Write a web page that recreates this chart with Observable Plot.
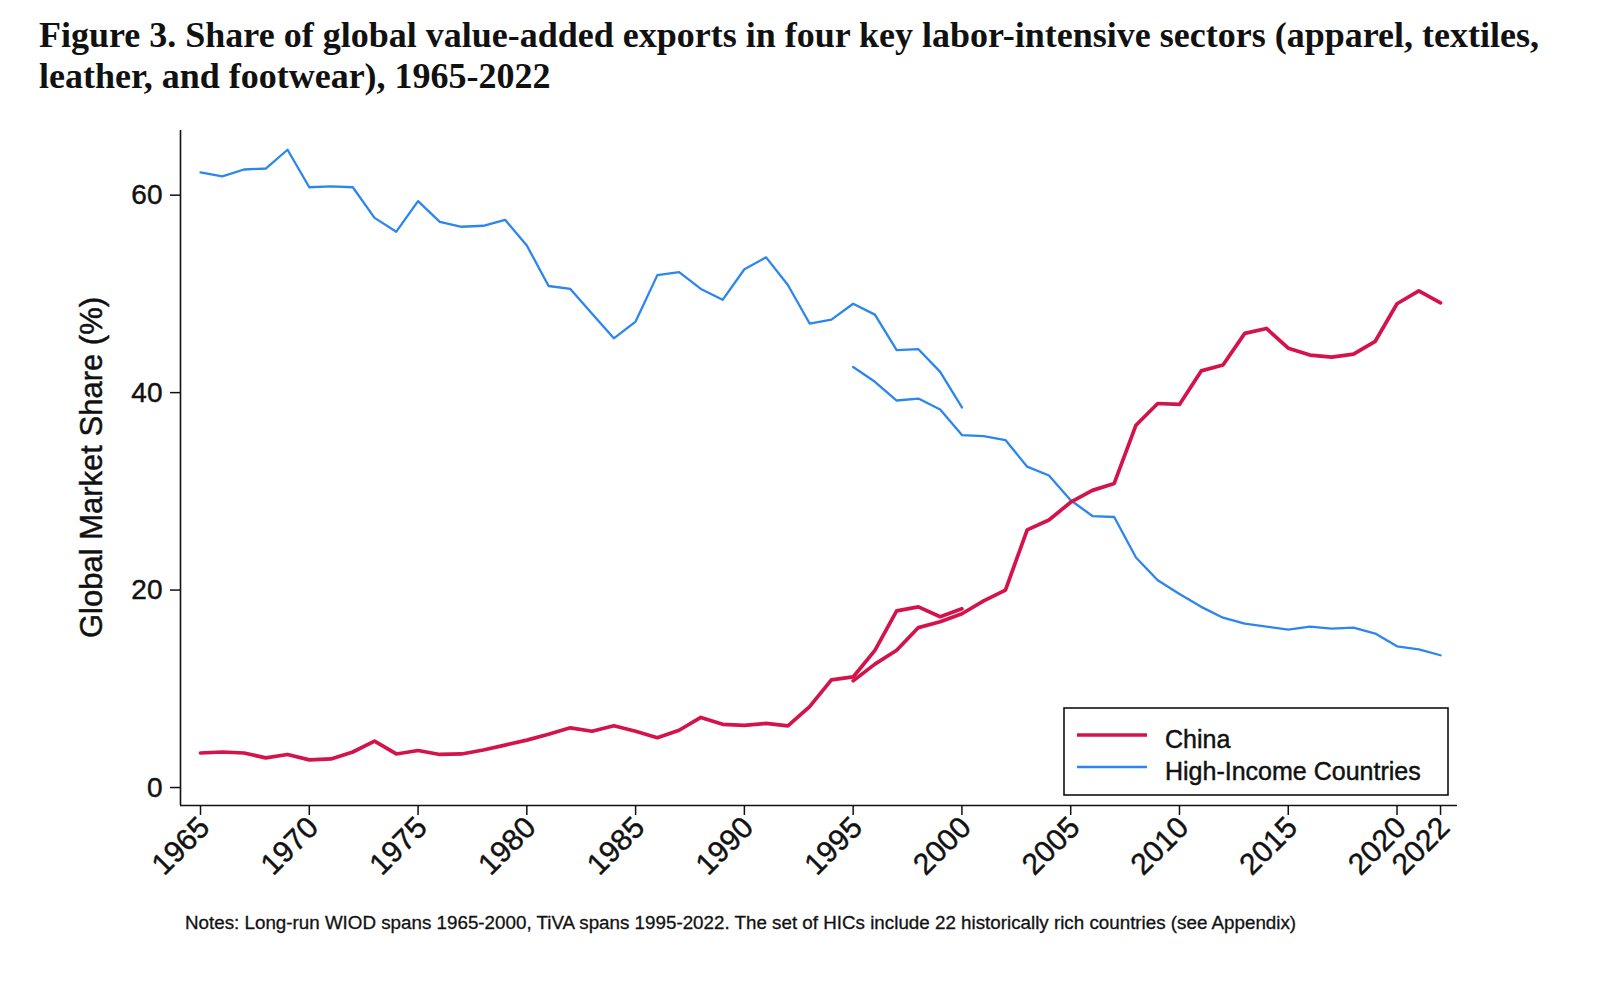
<!DOCTYPE html>
<html>
<head>
<meta charset="utf-8">
<script src="https://cdn.jsdelivr.net/npm/d3@7"></script>
<script src="https://cdn.jsdelivr.net/npm/@observablehq/plot@0.6"></script>
<style>
  html, body { margin: 0; padding: 0; background: #fff; }
  body { width: 1598px; height: 992px; position: relative; overflow: hidden; }
  #title { position: absolute; left: 39px; top: 15px; font-family: "Liberation Serif", "Times New Roman", serif; font-weight: bold; font-size: 36px; line-height: 41px; color: #111; white-space: nowrap; }
  #chart { position: absolute; left: 0; top: 110px; }
  #chart text { stroke: #111; stroke-width: 0.45px; }
  #notes { position: absolute; left: 185px; top: 913px; font-family: "Liberation Sans", Arial, sans-serif; font-size: 18.8px; line-height: 20px; color: #111; white-space: nowrap; -webkit-text-stroke: 0.3px #111; }
</style>
</head>
<body>
<div id="title">Figure 3. Share of global value-added exports in four key labor-intensive sectors (apparel, textiles,<br>leather, and footwear), 1965-2022</div>
<div id="chart"></div>
<div id="notes">Notes: Long-run WIOD spans 1965-2000, TiVA spans 1995-2022. The set of HICs include 22 historically rich countries (see Appendix)</div>
<script>
// ---- data ----
const wiodYears = d3.range(1965, 2001);
const tivaYears = d3.range(1995, 2023);

const chinaWiod = [3.5, 3.6, 3.5, 3.0, 3.35, 2.8, 2.9, 3.6, 4.7, 3.4, 3.75, 3.35, 3.4, 3.8, 4.3, 4.8, 5.4, 6.05, 5.7, 6.25, 5.7, 5.05, 5.8, 7.1, 6.4, 6.3, 6.5, 6.25, 8.2, 10.9, 11.2, 13.9, 17.9, 18.3, 17.3, 18.1];
const chinaTiva = [10.8, 12.5, 13.9, 16.2, 16.8, 17.6, 18.9, 20.0, 26.1, 27.1, 28.9, 30.1, 30.8, 36.7, 38.9, 38.8, 42.2, 42.8, 46.0, 46.5, 44.5, 43.8, 43.6, 43.9, 45.2, 49.0, 50.3, 49.1];
const hicWiod = [62.3, 61.9, 62.6, 62.7, 64.6, 60.8, 60.9, 60.8, 57.7, 56.3, 59.4, 57.3, 56.8, 56.9, 57.5, 54.9, 50.8, 50.5, 48.0, 45.5, 47.2, 51.9, 52.2, 50.5, 49.4, 52.5, 53.7, 50.9, 47.0, 47.4, 49.0, 47.9, 44.3, 44.4, 42.1, 38.5];
const hicTiva = [42.6, 41.1, 39.2, 39.4, 38.3, 35.7, 35.6, 35.2, 32.5, 31.6, 29.1, 27.5, 27.4, 23.3, 21.0, 19.6, 18.3, 17.2, 16.6, 16.3, 16.0, 16.3, 16.1, 16.2, 15.6, 14.3, 14.0, 13.4];

const seriesNames = ["China", "High-Income Countries"];
const seriesColors = ["#d4134a", "#2b86ee"];
const xTicks = [1965, 1970, 1975, 1980, 1985, 1990, 1995, 2000, 2005, 2010, 2015, 2020, 2022];
const yTicks = [0, 20, 40, 60];
const xDomain = [1964.08, 2022.78];
const yDomain = [-1.82, 66.55];

// ---- table ----
const rows = [];
function add(years, vals, series, source) {
  years.forEach((y, i) => rows.push({year: y, value: vals[i], series, source, key: series + "-" + source}));
}
add(wiodYears, chinaWiod, "China", "WIOD");
add(tivaYears, chinaTiva, "China", "TiVA");
add(wiodYears, hicWiod, "High-Income Countries", "WIOD");
add(tivaYears, hicTiva, "High-Income Countries", "TiVA");

const font = "'Liberation Sans', Arial, Helvetica, sans-serif";

const chart = Plot.plot({
  width: 1598,
  height: 800,
  marginLeft: 180,
  marginRight: 141,
  marginTop: 20,
  marginBottom: 105,
  style: {fontFamily: font, background: "white", color: "#111", overflow: "visible"},
  x: {domain: xDomain},
  y: {domain: yDomain},
  color: {domain: seriesNames, range: seriesColors},
  marks: [
    // x tick marks only
    Plot.axisX({ticks: xTicks, tickSize: 10, tickFormat: () => "", strokeWidth: 1.5, label: null}),
    // x tick labels, nudged
    Plot.axisX({ticks: xTicks, tickSize: 0, tickFormat: d => String(d), tickRotate: -45, tickPadding: 17, dx: 4, fontSize: 30, label: null}),
    Plot.axisY({ticks: yTicks, tickSize: 10, tickPadding: 8, fontSize: 28, strokeWidth: 1.5, label: null}),
    Plot.ruleX([xDomain[0]], {stroke: "#111", strokeWidth: 1.6}),
    Plot.ruleY([yDomain[0]], {stroke: "#111", strokeWidth: 1.6}),
    Plot.line(rows.filter(d => d.series === "High-Income Countries"), {x: "year", y: "value", z: "key", stroke: "series", strokeWidth: 2.3, strokeLinejoin: "round"}),
    Plot.line(rows.filter(d => d.series === "China"), {x: "year", y: "value", z: "key", stroke: "series", strokeWidth: 3.7, strokeLinejoin: "round"})
  ]
});

// y-axis title
const svg = d3.select(chart);
const yMid = (chart.scale("y").apply(yDomain[0]) + chart.scale("y").apply(yDomain[1])) / 2;
svg.append("text")
  .attr("transform", `translate(102,${yMid}) rotate(-90)`)
  .attr("text-anchor", "middle")
  .attr("font-family", font)
  .attr("font-size", 31)
  .attr("fill", "#111")
  .text("Global Market Share (%)");

// legend
const lg = svg.append("g");
lg.append("rect").attr("x", 1064).attr("y", 598).attr("width", 384).attr("height", 87)
  .attr("fill", "white").attr("stroke", "#111").attr("stroke-width", 1.6);
seriesNames.forEach((name, i) => {
  const cy = 625 + i * 32;
  lg.append("line").attr("x1", 1077).attr("x2", 1147).attr("y1", cy).attr("y2", cy)
    .attr("stroke", seriesColors[i]).attr("stroke-width", i === 0 ? 3.7 : 2.3);
  lg.append("text").attr("x", 1165).attr("y", cy + 13).attr("text-anchor", "start")
    .attr("font-family", font).attr("font-size", 25)
    .attr("fill", "#111").text(name);
});

document.getElementById("chart").appendChild(chart);
</script>
</body>
</html>
